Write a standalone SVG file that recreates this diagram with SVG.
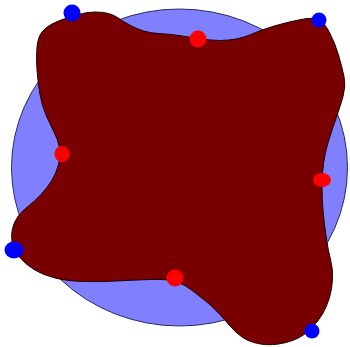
<svg xmlns="http://www.w3.org/2000/svg" width="350" height="347" viewBox="0 0 350 347">
<style>
.red{fill:#ff0000}
.blue{fill:#0000ff}
</style>
<rect width="350" height="347" fill="#ffffff"/>
<g id="disc">
<ellipse cx="179.5" cy="167.5" rx="168" ry="158.5" fill="#8080ff" stroke="#2a2a60" stroke-width="1"/>
</g>
<g id="blob">
<path fill="#780000" stroke="#1a0000" stroke-width="1" d="M64,19 Q70,17 78.5,14.5 Q87,12 95,12 Q103,12 108.5,13.5 Q114,15 119,18.5 Q124,22 130.5,25.5 Q137,29 143.5,31 Q150,33 158.5,33.5 Q167,34 175,35 Q183,36 191.5,37.5 Q200,39 210,40 Q220,41 229,40 Q238,39 244,37 Q250,35 257,32 Q264,29 276,25.5 Q288,22 301,19.5 Q314,17 319,19.5 Q324,22 329.5,32.5 Q335,43 338.5,55 Q342,67 344,76.5 Q346,86 343,96.5 Q340,107 336,118.5 Q332,130 328.5,141 Q325,152 323.5,163.5 Q322,175 322,187 Q322,199 323,210.5 Q324,222 326,236 Q328,250 330.5,259.5 Q333,269 332.5,279 Q332,289 329.5,297.5 Q327,306 322.5,314 Q318,322 309,330.5 Q300,339 286,342.5 Q272,346 260.5,344 Q249,342 242,337 Q235,332 230,326 Q225,320 218.5,313 Q212,306 205,300.5 Q198,295 191.5,290 Q185,285 177.5,282 Q170,279 151.5,279.5 Q133,280 116.5,281 Q100,282 83.5,281.5 Q67,281 55,278 Q43,275 34,269.5 Q25,264 19,256.5 Q13,249 12,242 Q11,235 12.5,228.5 Q14,222 18,216.5 Q22,211 28.5,206 Q35,201 41,194.5 Q47,188 51.5,181 Q56,174 58.5,164.5 Q61,155 59.5,147.5 Q58,140 54,132 Q50,124 46,115 Q42,106 40,94.5 Q38,83 37,70 Q36,57 37,47 Q38,37 42,32 Q46,27 52,24 Q58,21 64,19 Z"/>
</g>
<g id="red-points">
<circle class="red" cx="198" cy="39" r="8.5"/>
<ellipse class="red" cx="62" cy="154" rx="7.5" ry="8"/>
<ellipse class="red" cx="322" cy="180" rx="9" ry="7"/>
<circle class="red" cx="175" cy="278" r="8.5"/>
</g>
<g id="blue-points">
<circle class="blue" cx="72" cy="13" r="8.5"/>
<circle class="blue" cx="319" cy="20" r="7.5"/>
<ellipse class="blue" cx="14" cy="250" rx="9.5" ry="8.5"/>
<circle class="blue" cx="312" cy="331" r="7.5"/>
</g>
</svg>
